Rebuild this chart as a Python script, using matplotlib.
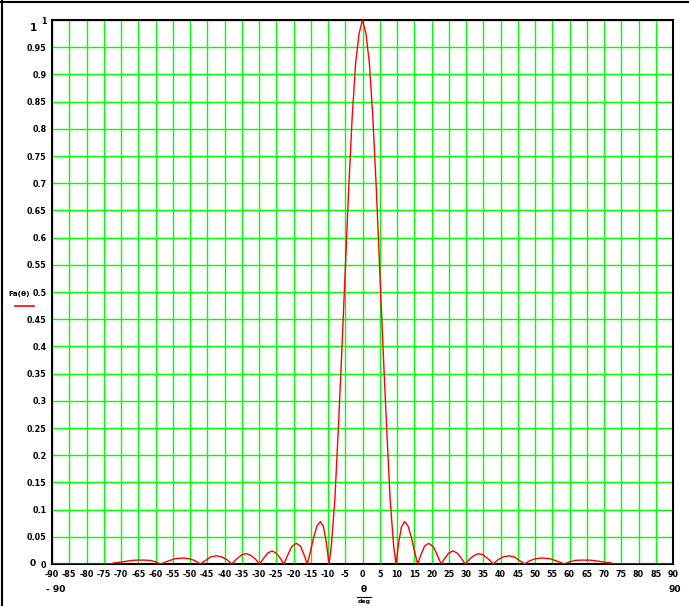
import matplotlib
matplotlib.use("Agg")
import matplotlib.pyplot as plt
from matplotlib.lines import Line2D

# ---- data ----
theta_deg = [-90.0, -73.0, -72.0, -70.0, -68.0, -66.0, -63.5, -61.5, -60.0, -58.5,
             -56.5, -54.5, -52.0, -50.0, -48.5, -47.0, -45.6, -44.0, -42.3, -40.8,
             -39.3, -37.9, -36.5, -35.0, -33.6, -32.4, -31.2, -29.8, -28.7, -27.5,
             -26.2, -25.0, -24.0, -22.8, -21.7, -20.5, -19.2, -18.0, -17.0, -16.0,
             -15.2, -14.2, -13.2, -12.2, -11.3, -10.5, -9.7, -9.0, -8.0, -7.0,
             -6.0, -5.0, -4.0, -3.0, -2.0, -1.0, 0.0,
             1.0, 2.0, 3.0, 4.0, 5.0, 6.0, 7.0, 8.0, 9.0, 9.7,
             10.5, 11.3, 12.2, 13.2, 14.2, 15.2, 16.0, 17.0, 18.0, 19.2,
             20.5, 21.7, 22.8, 24.0, 25.0, 26.2, 27.5, 28.7, 29.8, 31.2,
             32.4, 33.6, 35.0, 36.5, 37.9, 39.3, 40.8, 42.3, 44.0, 45.6,
             47.0, 48.5, 50.0, 52.0, 54.5, 56.5, 58.5, 60.0, 61.5, 63.5,
             66.0, 68.0, 70.0, 72.0, 73.0, 90.0]
fa_values = [0.0, 0.0, 0.002, 0.0035, 0.0055, 0.007, 0.0072, 0.0065, 0.004, 0.0,
             0.005, 0.0095, 0.011, 0.0095, 0.006, 0.0, 0.006, 0.013, 0.015, 0.013,
             0.008, 0.0, 0.009, 0.017, 0.019, 0.016, 0.010, 0.0, 0.010, 0.020,
             0.024, 0.020, 0.012, 0.0, 0.016, 0.032, 0.038, 0.033, 0.018, 0.0,
             0.020, 0.048, 0.070, 0.078, 0.068, 0.040, 0.0, 0.035, 0.12, 0.25,
             0.39, 0.54, 0.69, 0.82, 0.92, 0.975, 1.0,
             0.975, 0.92, 0.82, 0.69, 0.54, 0.39, 0.25, 0.12, 0.035, 0.0,
             0.040, 0.068, 0.078, 0.070, 0.048, 0.020, 0.0, 0.018, 0.033, 0.038,
             0.032, 0.016, 0.0, 0.012, 0.020, 0.024, 0.020, 0.010, 0.0, 0.010,
             0.016, 0.019, 0.017, 0.009, 0.0, 0.008, 0.013, 0.015, 0.013, 0.006,
             0.0, 0.006, 0.0095, 0.011, 0.0095, 0.005, 0.0, 0.004, 0.0065, 0.0072,
             0.007, 0.0055, 0.0035, 0.002, 0.0, 0.0]
x_ticks = list(range(-90, 91, 5))
x_ticklabels = [str(v) for v in x_ticks]
y_ticks = [round(0.05 * i, 2) for i in range(21)]
y_ticklabels = ["0", "0.05", "0.1", "0.15", "0.2", "0.25", "0.3", "0.35", "0.4", "0.45",
                "0.5", "0.55", "0.6", "0.65", "0.7", "0.75", "0.8", "0.85", "0.9", "0.95", "1"]

FONT = ["DejaVu Sans"]

W, H = 689, 606
fig = plt.figure(figsize=(W / 100, H / 100), dpi=100)
fig.patch.set_facecolor("white")

L, R, T, B = 52, 673, 20, 564
ax = fig.add_axes([L / W, 1 - B / H, (R - L) / W, (B - T) / H])
ax.set_xlim(-90, 90)
ax.set_ylim(0, 1)

ax.set_xticks(x_ticks)
ax.set_xticklabels(x_ticklabels, fontsize=5.8, fontweight="bold", family=FONT)
ax.set_yticks(y_ticks)
ax.set_yticklabels(y_ticklabels, fontsize=5.8, fontweight="bold", family=FONT)
ax.tick_params(axis="y", length=0, pad=4)
ax.tick_params(axis="x", length=0, pad=4)
ax.grid(True, color="#00ff00", linewidth=1.0)
ax.set_axisbelow(True)
for s in ax.spines.values():
    s.set_color("black")
    s.set_linewidth(1.5)

ax.plot(theta_deg, fa_values, color="red", linewidth=1.0, zorder=3)

def px(x, y, s, **kw):
    fig.text(x / W, 1 - y / H, s, ha="center", va="center", family=FONT,
             fontweight="bold", **kw)

# range-limit labels (Mathcad style)
px(33, 28, "1", fontsize=7.5)
px(33, 563, "0", fontsize=6.5)
px(56, 590, "- 90", fontsize=6.5)
px(675, 590, "90", fontsize=6.5)

# axis labels
px(19, 294, "Fa(θ)", fontsize=5.3)
fig.add_artist(Line2D([15 / W, 34 / W], [1 - 306 / H, 1 - 306 / H], color="red", linewidth=1.2))
px(364, 589, "θ", fontsize=6.5)
fig.add_artist(Line2D([357 / W, 371 / W], [1 - 597 / H, 1 - 597 / H], color="black", linewidth=0.8))
px(364, 602, "deg", fontsize=4.5)

# outer frame (top and left)
fig.add_artist(Line2D([0, 1], [1 - 1.5 / H, 1 - 1.5 / H], color="black", linewidth=1.5))
fig.add_artist(Line2D([1.5 / W, 1.5 / W], [0, 1], color="black", linewidth=1.5))

fig.savefig("out.png", dpi=100)
